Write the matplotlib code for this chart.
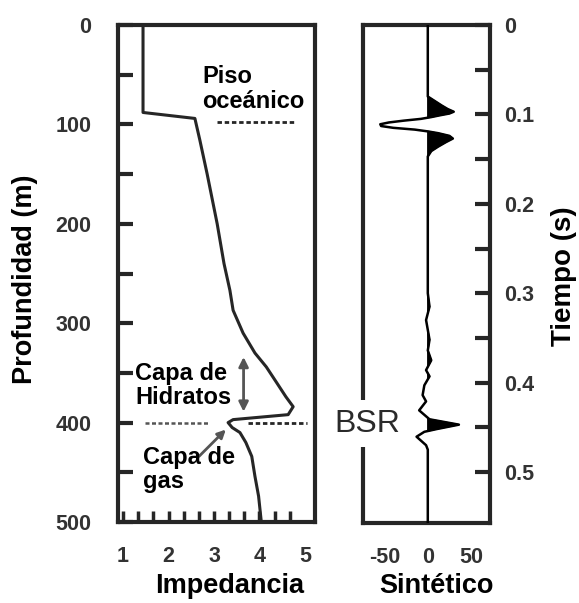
import numpy as np
import matplotlib.pyplot as plt
from matplotlib.ticker import FixedLocator

plt.rcParams['font.family'] = ['Liberation Sans', 'DejaVu Sans']
plt.rcParams['axes.unicode_minus'] = False

# impedance log (depth in m, impedance)
depth = [0, 88, 94, 116, 150, 200, 240, 267, 287, 310, 330, 344, 360, 374,
         384, 392, 397, 400, 405, 410, 420, 434, 454, 474, 500]
impedance = [1.44, 1.44, 2.58, 2.69, 2.85, 3.07, 3.22, 3.35, 3.42, 3.64, 3.90,
             4.15, 4.38, 4.58, 4.74, 4.63, 3.42, 3.31, 3.40, 3.57, 3.70, 3.83,
             3.90, 3.98, 4.04]

# synthetic trace (time in s, amplitude)
time = [0.000, 0.080, 0.085, 0.090, 0.094, 0.097, 0.099, 0.101, 0.103, 0.105,
        0.107, 0.109, 0.111, 0.113, 0.115, 0.117, 0.119, 0.121, 0.124, 0.127,
        0.131, 0.136, 0.141, 0.147, 0.300, 0.315, 0.330, 0.341, 0.352, 0.364,
        0.375, 0.386, 0.393, 0.403, 0.414, 0.421, 0.431, 0.436, 0.441, 0.447,
        0.452, 0.455, 0.4605, 0.470, 0.475, 0.557]
amp = [0, 0, 8, 16, 23, 30, 25, 14, 4, -8,
       -28, -45, -55, -54, -40, -15, 0, 12, 25, 29,
       21, 12, 4, 0, 0, 2, -2, 0, 2, 0,
       4, -2, 2, -4, -6, -2, -10, -4, 2, 36,
       10, -4, -13, -2, 0, 0]

depth_ticks = [0, 100, 200, 300, 400, 500]
imp_ticks = [1, 2, 3, 4, 5]
time_ticks = [0, 0.1, 0.2, 0.3, 0.4, 0.5]
time_labels = ['0', '0.1', '0.2', '0.3', '0.4', '0.5']
amp_ticks = [-50, 0, 50]

W, H = 579, 603
fig = plt.figure(figsize=(W / 100, H / 100), dpi=100)
ax1 = fig.add_axes([118 / W, 1 - 522 / H, 197 / W, 497 / H])
ax2 = fig.add_axes([363 / W, 1 - 523 / H, 127 / W, 498 / H])

dark = '#262626'
lab = '#333333'

for ax in (ax1, ax2):
    for s in ax.spines.values():
        s.set_linewidth(3)
        s.set_color(dark)

# ---- left panel
ax1.plot(impedance, depth, color=dark, lw=2.2, zorder=3)
ax1.set_xlim(0.89, 5.22)
ax1.set_ylim(500, 0)

ax1.set_yticks(depth_ticks)
ax1.set_yticklabels([str(d) for d in depth_ticks])
ax1.yaxis.set_minor_locator(FixedLocator([50, 150, 250, 350, 450]))
ax1.tick_params(axis='y', which='both', direction='in', length=11, width=3,
                color=dark, pad=19, labelsize=15.5, labelcolor=lab)
ax1.xaxis.remove_overlapping_locs = False
ax1.set_xticks(imp_ticks)
ax1.xaxis.set_minor_locator(FixedLocator([1 + k / 3 for k in range(12)]))
ax1.tick_params(axis='x', which='major', length=0, pad=17, labelsize=15.5,
                labelcolor=lab)
ax1.tick_params(axis='x', which='minor', direction='in', length=8, width=2.5,
                color=dark)
for t in ax1.get_xticklabels() + ax1.get_yticklabels():
    t.set_fontweight('bold')

# dashed markers
ax1.plot([3.07, 4.78], [97.5, 97.5], color=dark, lw=2, ls=(0, (1.6, 1)))
ax1.plot([1.48, 2.91], [400, 400], color='#555555', lw=1.8, ls=(0, (1.6, 1)))
ax1.plot([3.75, 5.04], [400, 400], color=dark, lw=2, ls=(0, (1.6, 1)))

ax1.annotate('', xy=(3.65, 389), xytext=(3.65, 334),
             arrowprops=dict(arrowstyle='<|-|>', color='#555555', lw=2,
                             mutation_scale=14, shrinkA=0, shrinkB=0))
ax1.annotate('', xy=(3.26, 407), xytext=(2.67, 434),
             arrowprops=dict(arrowstyle='-|>', color='#555555', lw=2,
                             mutation_scale=12, shrinkA=0, shrinkB=0))

ax1.text(2.74, 40, 'Piso\noceánico', fontsize=17, fontweight='bold',
         ha='left', va='top', linespacing=1.1)
ax1.text(1.27, 339, 'Capa de\nHidratos', fontsize=17, fontweight='bold',
         ha='left', va='top', linespacing=1.05)
ax1.text(1.44, 424, 'Capa de\ngas', fontsize=17, fontweight='bold',
         ha='left', va='top', linespacing=1.05)

# ---- right panel
ax2.plot(amp, time, color='black', lw=1.8, zorder=3)
a = np.array(amp)
ax2.fill_betweenx(time, 0, a, where=a > 0, color='black', interpolate=True,
                  zorder=3)
ax2.set_xlim(-75, 72)
ax2.set_ylim(0.557, 0)
ax2.yaxis.tick_right()
ax2.set_yticks(time_ticks)
ax2.set_yticklabels(time_labels)
ax2.yaxis.set_minor_locator(FixedLocator([0.05, 0.15, 0.25, 0.35, 0.45]))
ax2.tick_params(axis='y', which='both', direction='in', length=11, width=3,
                color=dark, pad=10, labelsize=15.5, labelcolor=lab)
ax2.set_xticks(amp_ticks)
ax2.set_xticklabels([str(v) for v in amp_ticks])
ax2.tick_params(axis='x', length=0, pad=17, labelsize=15.5, labelcolor=lab)
for t in ax2.get_xticklabels() + ax2.get_yticklabels():
    t.set_fontweight('bold')

ax2.text(-32, 0.446, 'BSR', fontsize=23, color='#2a2a2a', ha='right',
         va='center', clip_on=False, zorder=4,
         bbox=dict(fc='white', ec='none', pad=6))

# axis titles
fig.text(230 / W, 1 - 593 / H, 'Impedancia', fontsize=19.5, fontweight='bold',
         ha='center', va='baseline')
fig.text(436 / W, 1 - 593 / H, 'Sintético', fontsize=19.5, fontweight='bold',
         ha='center', va='baseline')
fig.text(25 / W, 1 - 279 / H, 'Profundidad (m)', fontsize=19.5,
         fontweight='bold', rotation=90, ha='center', va='center')
fig.text(564 / W, 1 - 276 / H, 'Tiempo (s)', fontsize=20, fontweight='bold',
         rotation=90, ha='center', va='center')

fig.savefig('out.png', dpi=100)
